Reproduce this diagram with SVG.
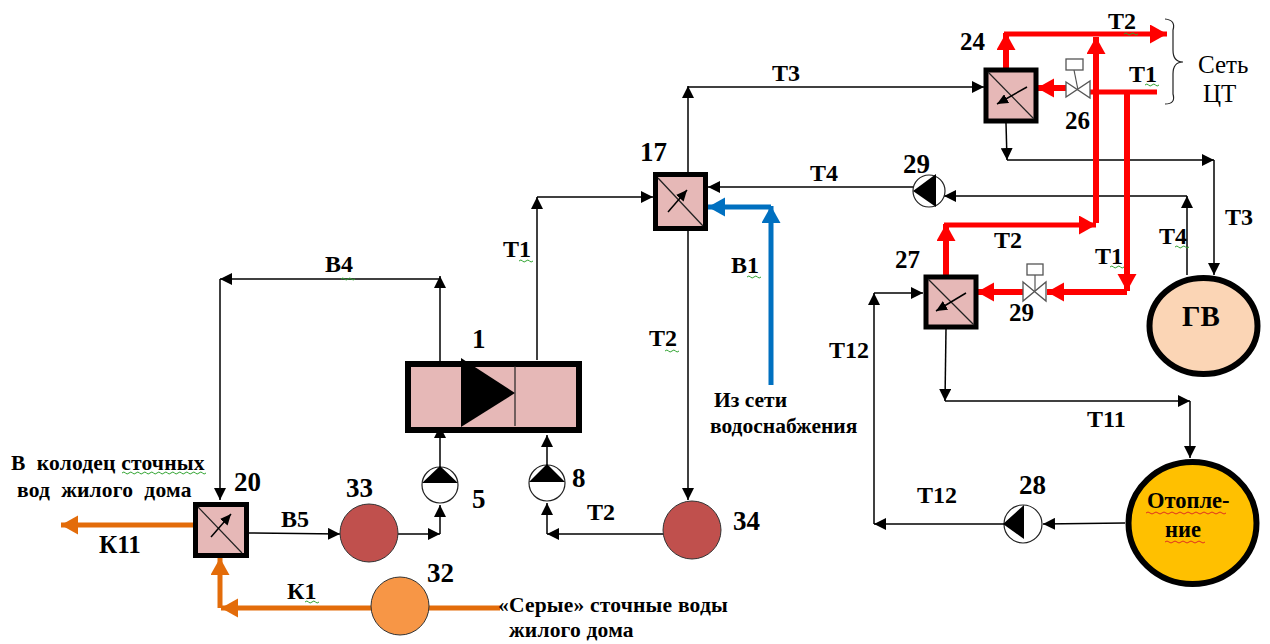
<svg xmlns="http://www.w3.org/2000/svg" width="1270" height="644" viewBox="0 0 1270 644">
<style>
text{font-family:"Liberation Serif","Times New Roman",serif;fill:#000;white-space:pre}
.n{font-size:25px;font-weight:bold}
.l{font-size:24px;font-weight:bold}
.t{font-size:21.500px;font-weight:bold}
.s{font-size:25px}
.k{fill:none;stroke:#000;stroke-width:1.500}
.r{fill:none;stroke:#f00;stroke-width:6}
.o{fill:none;stroke:#e36c0a;stroke-width:5}
.b{fill:none;stroke:#0070c0;stroke-width:5}
.hx{fill:#e6b8b7;stroke:#000;stroke-width:5}
.thin{fill:none;stroke:#222;stroke-width:1.200}
.pump{fill:#fff;stroke:#222;stroke-width:1.200}
.v{fill:#fff;stroke:#555;stroke-width:1.300}
.sg{fill:none;stroke:#2fa32f;stroke-width:1}
.sr{fill:none;stroke:#e03020;stroke-width:1}
</style>
<defs>
<marker id="ak" markerUnits="userSpaceOnUse" markerWidth="14" markerHeight="12" refX="12" refY="6" orient="auto"><path d="M0 0L12 6L0 12Z" fill="#000"/></marker>
<marker id="ar" markerUnits="userSpaceOnUse" markerWidth="18" markerHeight="20" refX="17" refY="9.500" orient="auto"><path d="M0 0L17 9.500L0 19Z" fill="#f00"/></marker>
<marker id="ao" markerUnits="userSpaceOnUse" markerWidth="18" markerHeight="20" refX="17" refY="9.500" orient="auto"><path d="M0 0L17 9.500L0 19Z" fill="#e36c0a"/></marker>
<marker id="ab" markerUnits="userSpaceOnUse" markerWidth="18" markerHeight="20" refX="17" refY="9.500" orient="auto"><path d="M0 0L17 9.500L0 19Z" fill="#0070c0"/></marker>
<marker id="as" markerUnits="userSpaceOnUse" markerWidth="12" markerHeight="10" refX="11" refY="5" orient="auto"><path d="M0 0L11 5L0 10Z" fill="#000"/></marker>
</defs>

<g id="connectors">
<path class="k" marker-end="url(#ak)" d="M688 172V86"/>
<path class="k" marker-end="url(#ak)" d="M688 87H984"/>
<path class="k" marker-end="url(#ak)" d="M1006 123L1007 160"/>
<path class="k" marker-end="url(#ak)" d="M1007 160H1214"/>
<path class="k" marker-end="url(#ak)" d="M1214 160V275"/>
<path class="k" marker-end="url(#ak)" d="M1187 275V196"/>
<path class="k" marker-end="url(#ak)" d="M1187 196H944"/>
<path class="k" marker-end="url(#ak)" d="M913 187H708"/>
<path class="k" marker-end="url(#ak)" d="M688 231V500"/>
<path class="k" marker-end="url(#ak)" d="M537 360V197"/>
<path class="k" marker-end="url(#ak)" d="M537 197H653"/>
<path class="k" marker-end="url(#ak)" d="M440 361V276"/>
<path class="k" marker-end="url(#ak)" d="M440 279H220"/>
<path class="k" marker-end="url(#ak)" d="M220 279V500"/>
<path class="k" marker-end="url(#ak)" d="M249 533L340 534"/>
<path class="k" marker-end="url(#ak)" d="M398 534H440"/>
<path class="k" marker-end="url(#ak)" d="M440 534V505"/>
<path class="k" marker-end="url(#ak)" d="M440 467V426"/>
<path class="k" marker-end="url(#ak)" d="M547 465V435"/>
<path class="k" marker-end="url(#ak)" d="M663 534H547"/>
<path class="k" marker-end="url(#ak)" d="M547 534V503"/>
<path class="k" marker-end="url(#ak)" d="M1004 524H874"/>
<path class="k" marker-end="url(#ak)" d="M874 524V293"/>
<path class="k" marker-end="url(#ak)" d="M874 293H923"/>
<path class="k" marker-end="url(#ak)" d="M1125 523L1043 524"/>
<path class="k" marker-end="url(#ak)" d="M946 329L945 401"/>
<path class="k" marker-end="url(#ak)" d="M945 401H1190"/>
<path class="k" marker-end="url(#ak)" d="M1190 401V458"/>
<path class="r" marker-end="url(#ar)" d="M1006 68V33"/>
<path class="r" style="stroke-width:5" marker-end="url(#ar)" d="M1004 34H1167"/>
<path class="r" marker-end="url(#ar)" d="M1096 223V37"/>
<path class="r" style="stroke-width:5" marker-end="url(#ar)" d="M944 225H1096"/>
<path class="r" marker-end="url(#ar)" d="M946 275V224"/>
<path class="r" style="stroke-width:5" d="M1157 92H1090"/>
<path class="r" marker-end="url(#ar)" d="M1066 88H1037"/>
<path class="r" marker-end="url(#ar)" d="M1127 90V291"/>
<path class="r" marker-end="url(#ar)" d="M1127 292H1047"/>
<path class="r" marker-end="url(#ar)" d="M1023 292H977"/>
<path class="o" marker-end="url(#ao)" d="M194 525H61"/>
<path class="o" marker-end="url(#ao)" d="M500 608H221"/>
<path class="o" marker-end="url(#ao)" d="M220 608V558"/>
<path class="b" marker-end="url(#ab)" d="M771 385V206"/>
<path class="b" marker-end="url(#ab)" d="M771 207H708"/>
</g>

<g id="node-1">
<rect x="408" y="364" width="171" height="66" fill="#e6b8b7" stroke="#000" stroke-width="6"/>
<path d="M461 358L515 393L461 427Z" fill="#000"/>
<path d="M515 366V426" class="thin"/>
<text class="n" x="472" y="348" style="font-size:27px">1</text>
</g>
<g id="node-17">
<rect x="655.500" y="174.500" width="50" height="54" class="hx"/>
<path class="thin" d="M658 178L703 226"/>
<path class="k" marker-end="url(#as)" d="M668 212L687 190"/>
<text class="n" x="640" y="161" style="font-size:27px">17</text>
</g>
<g id="node-20">
<rect x="195.500" y="504.500" width="51" height="51" class="hx"/>
<path class="thin" d="M198 507L242 553"/>
<path class="k" marker-end="url(#as)" d="M211 537L231 514"/>
<text class="n" x="234" y="491" style="font-size:27px">20</text>
</g>
<g id="node-24">
<rect x="986" y="70" width="50" height="51" class="hx"/>
<path class="thin" d="M988 72L1034 119"/>
<path class="k" marker-end="url(#as)" d="M1027 87L997 104"/>
<text class="n" x="960" y="50">24</text>
</g>
<g id="node-27">
<rect x="926" y="277" width="50" height="50" class="hx"/>
<path class="thin" d="M928 279L974 325"/>
<path class="k" marker-end="url(#as)" d="M966 293L936 311"/>
<text class="n" x="895" y="268">27</text>
</g>
<g id="node-26">
<rect x="1066" y="59" width="17" height="11" class="v"/>
<path class="thin" style="stroke:#555" d="M1074 70L1078 90"/>
<path class="v" d="M1066 82L1090 98V81L1066 97Z"/>
<text class="n" x="1065" y="129">26</text>
</g>
<g id="node-29b">
<rect x="1027" y="264" width="16" height="11" class="v"/>
<path class="thin" style="stroke:#555" d="M1035 275V292"/>
<path class="v" d="M1023 282L1046 301V282L1023 301Z"/>
<text class="n" x="1009" y="321">29</text>
</g>
<g id="node-29">
<circle cx="929" cy="191" r="16" class="pump"/>
<path d="M913 191L936 174V207Z" fill="#000"/>
<text class="n" x="903" y="173" style="font-size:27px">29</text>
</g>
<g id="node-5">
<circle cx="440" cy="485" r="18" class="pump"/>
<path d="M440 466L422 483H458Z" fill="#000"/>
<text class="n" x="472" y="508" style="font-size:27px">5</text>
</g>
<g id="node-8">
<circle cx="547" cy="483" r="18" class="pump"/>
<path d="M547 464L529 482H565Z" fill="#000"/>
<text class="n" x="572" y="487" style="font-size:27px">8</text>
</g>
<g id="node-28">
<circle cx="1023" cy="524" r="19" class="pump"/>
<path d="M1003 524L1024 505V539Z" fill="#000"/>
<text class="n" x="1019" y="494" style="font-size:27px">28</text>
</g>
<g id="node-33">
<circle cx="369" cy="533" r="29" fill="#c0504d" stroke="#333" stroke-width="1"/>
<text class="n" x="346" y="497" style="font-size:27px">33</text>
</g>
<g id="node-32">
<circle cx="400" cy="606" r="29" fill="#f79646" stroke="#333" stroke-width="1"/>
<text class="n" x="427" y="582" style="font-size:27px">32</text>
</g>
<g id="node-34">
<circle cx="692" cy="530" r="29" fill="#c0504d" stroke="#333" stroke-width="1"/>
<text class="n" x="733" y="530" style="font-size:27px">34</text>
</g>
<g id="node-gv">
<ellipse cx="1203.500" cy="326" rx="54" ry="48" fill="#fbd5b5" stroke="#000" stroke-width="6"/>
<text x="1201" y="326" text-anchor="middle" style="font-size:29px;font-weight:bold">ГВ</text>
</g>
<g id="node-heat">
<ellipse cx="1192.500" cy="523" rx="64" ry="61" fill="#ffc000" stroke="#000" stroke-width="6"/>
<text class="t" x="1147" y="508" style="font-size:22.500px">Отопле-</text>
<text class="t" x="1165" y="537" style="font-size:22.500px">ние</text>
<path class="sr" d="M1146 513q2-2 4 0t4 0t4 0t4 0t4 0t4 0t4 0t4 0t4 0t4 0t4 0t4 0t4 0t4 0t4 0t4 0t4 0t4 0t4 0t4 0"/>
<path class="sr" d="M1165 542q2-2 4 0t4 0t4 0t4 0t4 0t4 0t4 0t4 0t4 0t4 0"/>
</g>

<g id="labels">
<text class="l" x="772" y="81">Т3</text>
<text class="l" x="1108" y="29">Т2</text>
<text class="l" x="1129" y="82">Т1</text>
<text class="l" x="1225" y="225">Т3</text>
<text class="l" x="1159" y="244">Т4</text>
<text class="l" x="810" y="181">Т4</text>
<text class="l" x="994" y="248">Т2</text>
<text class="l" x="1095" y="264">Т1</text>
<text class="l" x="503" y="257">Т1</text>
<text class="l" x="649" y="346">Т2</text>
<text class="l" x="731" y="273">В1</text>
<text class="l" x="325" y="272">В4</text>
<text class="l" x="281" y="527">В5</text>
<text class="l" x="587" y="520">Т2</text>
<text class="l" x="99" y="553" style="font-size:25px">К11</text>
<text class="l" x="287" y="599">К1</text>
<text class="l" x="829" y="358">Т12</text>
<text class="l" x="1087" y="427">Т11</text>
<text class="l" x="917" y="503">Т12</text>
<text class="s" x="1198" y="73">Сеть</text>
<text class="s" x="1203" y="102">ЦТ</text>
<text class="t" x="11" y="470" style="letter-spacing:.2px">В  колодец сточных</text>
<text class="t" x="17" y="497" style="letter-spacing:.2px">вод  жилого  дома</text>
<text class="t" x="714" y="407">Из сети</text>
<text class="t" x="710" y="433">водоснабжения</text>
<text class="t" x="498" y="612" style="letter-spacing:.2px">«Серые» сточные воды</text>
<text class="t" x="509" y="637" style="letter-spacing:.2px">жилого дома</text>
<path class="sg" d="M1145 85q2-2 3.500 0t3.500 0t3.500 0t3.500 0"/>
<path class="sg" d="M1124 34q2-2 3.500 0t3.500 0t3.500 0t3.500 0"/>
<path class="sg" d="M1175 247q2-2 3.500 0t3.500 0t3.500 0t3.500 0"/>
<path class="sg" d="M1110 267q2-2 3.500 0t3.500 0t3.500 0t3.500 0"/>
<path class="sg" d="M519 261q2-2 3.500 0t3.500 0t3.500 0t3.500 0"/>
<path class="sg" d="M665 351q2-2 3.500 0t3.500 0t3.500 0t3.500 0"/>
<path class="sg" d="M747 277q2-2 3.500 0t3.500 0t3.500 0t3.500 0"/>
<path class="sg" d="M341 279q2-2 3.500 0t3.500 0t3.500 0t3.500 0"/>
<path class="sg" d="M305 602q2-2 3.500 0t3.500 0t3.500 0t3.500 0"/>
<path class="sg" d="M122 473q2-2 3.500 0t3.500 0t3.500 0t3.500 0t3.500 0t3.500 0t3.500 0t3.500 0t3.500 0t3.500 0t3.500 0t3.500 0t3.500 0t3.500 0t3.500 0t3.500 0t3.500 0t3.500 0t3.500 0t3.500 0t3.500 0t3.500 0t3.500 0t3.500 0"/>
</g>

<g id="brace"><path class="thin" d="M1165 19Q1176 20 1173 30V50Q1173 62 1183 62Q1173 62 1173 74V94Q1176 104 1165 104"/></g>
</svg>
